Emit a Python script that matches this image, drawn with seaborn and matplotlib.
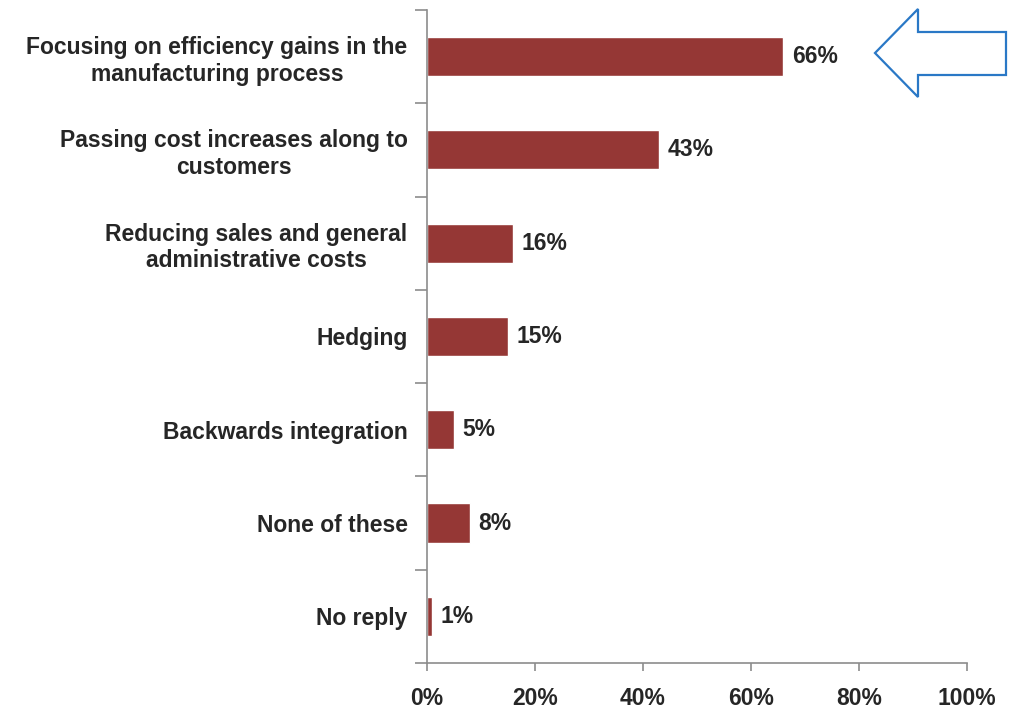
import matplotlib
matplotlib.use("Agg")
import matplotlib.pyplot as plt
from matplotlib.patches import Polygon
from matplotlib.ticker import FixedLocator, PercentFormatter
import seaborn as sns
import pandas as pd

categories = [
    "Focusing on efficiency gains in the\nmanufacturing process",
    "Passing cost increases along to\ncustomers",
    "Reducing sales and general\nadministrative costs",
    "Hedging",
    "Backwards integration",
    "None of these",
    "No reply",
]
shares = [66, 43, 16, 15, 5, 8, 1]
x_ticks = [0, 20, 40, 60, 80, 100]

sns.set_theme(style="white")
plt.rcParams["font.family"] = ["Liberation Sans", "DejaVu Sans"]
plt.rcParams["font.weight"] = "bold"

df = pd.DataFrame({"response": categories, "share": shares})

fig = plt.figure(figsize=(10.1, 7.08), dpi=100)
ax = fig.add_axes([0.4228, 0.0636, 0.5346, 0.9223])

sns.barplot(data=df, x="share", y="response", orient="h", color="#953735",
            saturation=1, width=0.42, ax=ax)

text_color = "#262626"
axis_color = "#8c8c8c"
fs = 16.5

ax.set_xlim(0, 100)
ax.set_ylim(len(categories) - 0.5, -0.5)
ax.set_xlabel("")
ax.set_ylabel("")

for side in ["top", "right"]:
    ax.spines[side].set_visible(False)
for side in ["left", "bottom"]:
    ax.spines[side].set_color(axis_color)
    ax.spines[side].set_linewidth(1.2)

ax.xaxis.set_major_locator(FixedLocator(x_ticks))
ax.xaxis.set_major_formatter(PercentFormatter(decimals=0))
ax.tick_params(axis="x", which="major", direction="out", length=6, width=1.2,
               color=axis_color, bottom=True, pad=11, labelsize=fs,
               labelcolor=text_color)

# category separators as outward minor ticks on the y axis
ax.yaxis.set_minor_locator(FixedLocator([i - 0.5 for i in range(len(categories) + 1)]))
ax.tick_params(axis="y", which="minor", direction="out", length=9, width=1.2,
               color=axis_color, left=True)
ax.tick_params(axis="y", which="major", length=0, pad=14, labelsize=fs,
               labelcolor=text_color)
for lbl in ax.get_yticklabels():
    lbl.set_horizontalalignment("right")
    lbl.set_multialignment("center")
    lbl.set_linespacing(1.2)
for lbl in ax.get_xticklabels() + ax.get_yticklabels():
    lbl.set_fontweight("bold")

ax.bar_label(ax.containers[0], labels=[f"{v}%" for v in shares], padding=6,
             fontsize=fs, fontweight="bold", color=text_color)

# outlined arrow pointing at the top bar
W, H = 1010, 708
pts = [(875, 53), (918, 9), (918, 32), (1006, 32), (1006, 75), (918, 75), (918, 97)]
arrow = Polygon([(x / W, 1 - y / H) for x, y in pts], closed=True,
                transform=fig.transFigure, facecolor="white",
                edgecolor="#2a78c6", linewidth=1.6, clip_on=False)
fig.patches.append(arrow)

fig.savefig("out.png", dpi=100, facecolor="white")
